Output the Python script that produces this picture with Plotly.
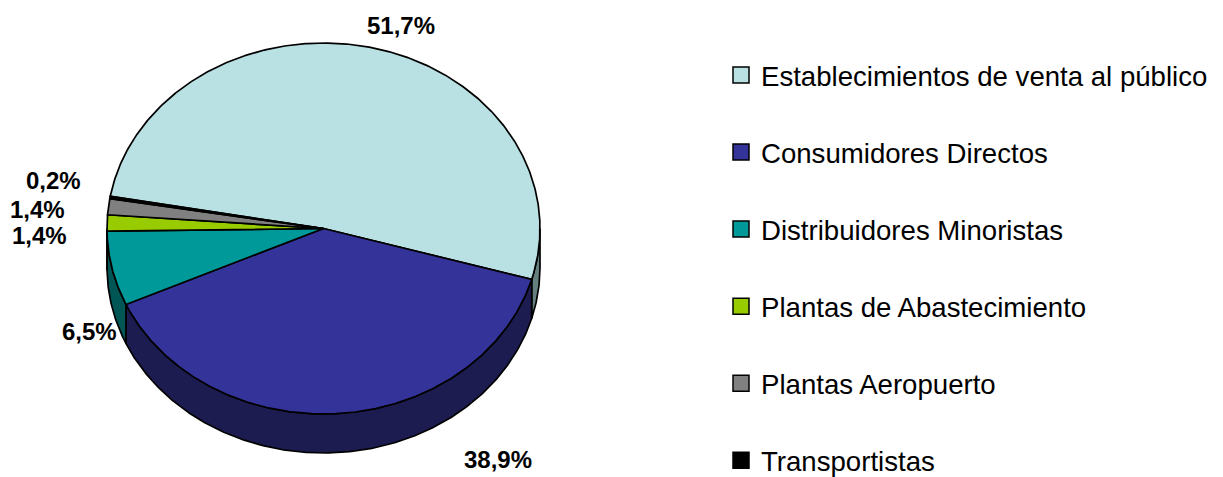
import math
import plotly.graph_objects as go

categories = ["Establecimientos de venta al público", "Consumidores Directos",
              "Distribuidores Minoristas", "Plantas de Abastecimiento",
              "Plantas Aeropuerto", "Transportistas"]
values = [51.7, 38.9, 6.5, 1.4, 1.4, 0.2]
labels = ["51,7%", "38,9%", "6,5%", "1,4%", "1,4%", "0,2%"]
top_colors = ["#B9E0E3", "#333399", "#009999", "#99CC00", "#808080", "#000000"]
side_colors = ["#668080", "#1C1C50", "#005555", "#556B00", "#484848", "#000000"]
label_xy = [(401, 25), (498, 459), (89, 331), (39, 235), (37, 209), (53, 180)]

CX, CY, RX, RY, DEPTH = 323.5, 228.5, 216.5, 185.5, 39
START = -80.0
OFFSET = 8  # the page's body margin
total = sum(values)


def pt(t, dy=0):
    r = math.radians(t)
    return CX + RX * math.sin(r), CY - RY * math.cos(r) + dy


def arc(a, b, dy=0):
    n = max(2, int(abs(b - a) * 2))
    return [pt(a + (b - a) * i / n, dy) for i in range(n + 1)]


spans = []
a = START
for v in values:
    b = a + v / total * 360
    spans.append((a, b))
    a = b

fig = go.Figure()
LINE = dict(color="black", width=1.7)

for (a, b), col, name in zip(spans, side_colors, categories):
    lo, hi = max(a, 90), min(b, 270)
    if lo < hi:
        p = arc(lo, hi) + arc(hi, lo, DEPTH)
        p.append(p[0])
        fig.add_trace(go.Scatter(x=[q[0] for q in p], y=[q[1] for q in p], mode="lines",
                                 fill="toself", fillcolor=col, line=LINE,
                                 showlegend=False, hoverinfo="skip"))

for (a, b), col, name, v in zip(spans, top_colors, categories, values):
    p = [(CX, CY)] + arc(a, b) + [(CX, CY)]
    fig.add_trace(go.Scatter(x=[q[0] for q in p], y=[q[1] for q in p], mode="lines",
                             fill="toself", fillcolor=col, line=LINE,
                             showlegend=False, name=name, text=f"{v}%", hoverinfo="name+text"))

for i, (name, col) in enumerate(zip(categories, top_colors)):
    fig.add_trace(go.Scatter(x=[None], y=[None], mode="markers", name=name,
                             legendgroup=f"g{i}",
                             marker=dict(symbol="square", size=16, color=col,
                                         line=dict(color="black", width=1.5))))

for t, (x, y) in zip(labels, label_xy):
    fig.add_annotation(x=x, y=y, text=f"<b>{t}</b>", showarrow=False,
                       font=dict(family="Liberation Sans", size=24, color="black"))

BOTTOM = 500
W, H = 1223 - OFFSET, BOTTOM - OFFSET
fig.update_layout(
    width=W, height=H, autosize=False,
    margin=dict(l=0, r=0, t=0, b=0),
    paper_bgcolor="white", plot_bgcolor="white",
    xaxis=dict(range=[OFFSET, 1223], visible=False, fixedrange=True),
    yaxis=dict(range=[BOTTOM, OFFSET], visible=False, fixedrange=True),
    legend=dict(x=(721 - OFFSET) / W, xanchor="left", y=1 - (50.5 - OFFSET) / H, yanchor="top",
                font=dict(family="Liberation Sans", size=27.6, color="black"),
                tracegroupgap=38.2, itemwidth=30, itemsizing="trace",
                bgcolor="rgba(0,0,0,0)"),
)
fig.write_html("out.html")
